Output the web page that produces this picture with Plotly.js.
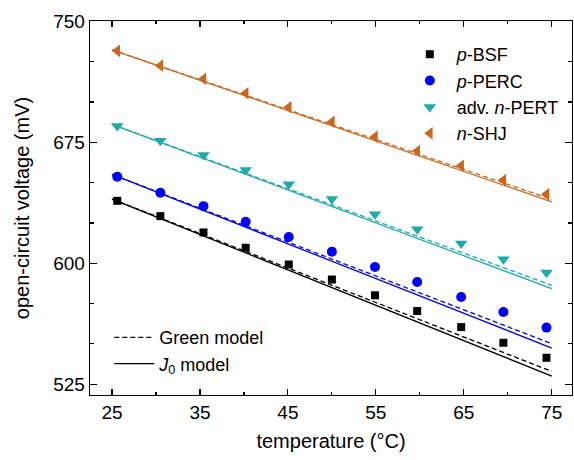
<!DOCTYPE html>
<html>
<head>
<meta charset="utf-8">
<script src="https://cdn.plot.ly/plotly-3.0.1.min.js"></script>
<style>html,body{margin:0;padding:0;background:#fff}#chart{width:574px;height:460px}</style>
</head>
<body>
<div id="chart"></div>
<script>
// Measured temperatures (°C)
const temperature = [25.6, 30.5, 35.4, 40.2, 45.1, 50.0, 54.9, 59.7, 64.7, 69.5, 74.4];
// Measured open-circuit voltages (mV)
const vocBSF  = [638.7, 629.2, 619.1, 609.6, 599.2, 589.9, 580.1, 570.4, 560.4, 550.7, 541.4];
const vocPERC = [653.6, 643.7, 635.4, 625.7, 616.3, 607.2, 597.7, 588.4, 579.1, 569.8, 560.1];
const vocPERT = [685.1, 676.0, 667.1, 657.8, 648.9, 639.8, 630.4, 621.1, 612.2, 602.5, 594.2];
const vocSHJ  = [731.7, 722.5, 714.3, 705.4, 696.7, 687.6, 678.4, 669.6, 660.4, 651.6, 642.7];
// Model lines (end points of temperature range)
const modelT = [25, 75];
const greenBSF  = [639.8, 532.9];
const j0BSF     = [639.8, 530.0];
const greenPERC = [655.1, 550.1];
const j0PERC    = [655.1, 547.4];
const greenPERT = [686.1, 586.3];
const j0PERT    = [686.1, 584.3];
const greenSHJ  = [732.3, 639.6];
const j0SHJ     = [732.3, 638.1];

const names = ['<i>p</i>-BSF', '<i>p</i>-PERC', 'adv. <i>n</i>-PERT', '<i>n</i>-SHJ'];
const colors = ['#000000', '#0000FF', '#1EAAAA', '#CC661E'];
const symbols = ['square', 'circle', 'triangle-down', 'triangle-left'];
const sizes = [8, 10, 11, 11];
const meas = [vocBSF, vocPERC, vocPERT, vocSHJ];
const greens = [greenBSF, greenPERC, greenPERT, greenSHJ];
const j0s = [j0BSF, j0PERC, j0PERT, j0SHJ];

const traces = [];
for (let i = 0; i < 4; i++) {
  traces.push({x: modelT, y: greens[i], mode: 'lines', line: {color: colors[i], width: 1.3, dash: '5px,3px'}, showlegend: false, hoverinfo: 'skip'});
  traces.push({x: modelT, y: j0s[i], mode: 'lines', line: {color: colors[i], width: 1.3}, showlegend: false, hoverinfo: 'skip'});
}
for (let i = 0; i < 4; i++) {
  traces.push({x: temperature, y: meas[i], mode: 'markers', name: names[i],
    marker: {symbol: symbols[i], size: sizes[i], color: colors[i], line: {width: 0}}, legend: 'legend'});
}
traces.push({x: [null], y: [null], mode: 'lines', name: 'Green model', line: {color: '#000', width: 1.3, dash: '5px,3px'}, legend: 'legend2'});
traces.push({x: [null], y: [null], mode: 'lines', name: '<i>J</i><sub>0</sub> model', line: {color: '#000', width: 1.3}, legend: 'legend2'});

const fam = '"Liberation Sans", Arial, sans-serif';
const font = {family: fam, size: 19, color: '#000'};
const tfont = {family: fam, size: 20, color: '#000'};
const lfont = {family: fam, size: 18, color: '#000'};
const layout = {
  width: 574, height: 460,
  margin: {l: 90, r: 2, t: 21, b: 65},
  paper_bgcolor: '#fff', plot_bgcolor: '#fff',
  font: font,
  xaxis: {
    range: [22.5, 77.3], tick0: 25, dtick: 10, ticks: 'inside', ticklen: 6, tickwidth: 1.2,
    tickcolor: '#000', showline: true, linecolor: '#000', linewidth: 1.3, mirror: 'allticks',
    showgrid: false, zeroline: false,
    minor: {dtick: 5, tick0: 25, ticks: 'inside', ticklen: 3, tickwidth: 1.2, tickcolor: '#000', showgrid: false},
    title: {text: 'temperature (°C)', font: tfont, standoff: 12},
    tickfont: font
  },
  yaxis: {
    range: [518.3, 750.2], tick0: 525, dtick: 75, ticks: 'inside', ticklen: 7, tickwidth: 1.2,
    tickcolor: '#000', showline: true, linecolor: '#000', linewidth: 1.3, mirror: 'allticks',
    showgrid: false, zeroline: false,
    minor: {dtick: 25, tick0: 525, ticks: 'inside', ticklen: 4, tickwidth: 1.2, tickcolor: '#000', showgrid: false},
    title: {text: 'open-circuit voltage (mV)', font: tfont, standoff: 18},
    tickfont: font
  },
  legend: {x: 0.649, y: 0.96, xanchor: 'left', yanchor: 'top', bgcolor: 'rgba(0,0,0,0)', font: lfont, tracegroupgap: 0, itemwidth: 44},
  legend2: {x: 0.04, y: 0.203, xanchor: 'left', yanchor: 'top', bgcolor: 'rgba(0,0,0,0)', font: lfont, itemwidth: 40},
  showlegend: true
};
Plotly.newPlot('chart', traces, layout, {displayModeBar: false, staticPlot: true});
</script>
</body>
</html>
